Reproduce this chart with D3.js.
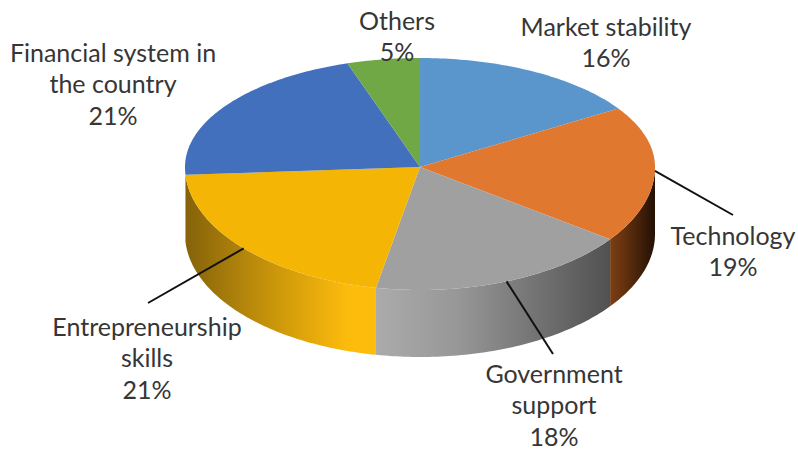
<!DOCTYPE html>
<html>
<head>
<meta charset="utf-8">
<script src="https://cdn.jsdelivr.net/npm/d3@7"></script>
<style>
html,body{margin:0;padding:0;background:#fff}
svg{display:block}
text{font-family:Lato,"Open Sans",sans-serif;font-size:25px;fill:#363636}
</style>
</head>
<body>
<svg id="chart" width="798" height="449"></svg>
<script>
// Survey shares, clockwise from twelve o'clock
const categories = ["Market stability","Technology","Government support","Entrepreneurship skills","Financial system in the country","Others"];
const shares = [16,19,18,21,21,5];
const topColors = ["#5a96cc","#e07830","#a0a0a0","#f5b505","#4370bd","#70a845"];
const labelLines = [["Market stability"],["Technology"],["Government","support"],["Entrepreneurship","skills"],["Financial system in","the country"],["Others"]];

// Label block centres (x, y of first line) and leader-line ends
const labelAnchors = [[606,27],[733,236],[554,374],[147,327],[113,53],[397,21]];
const leaderEnds = [null,[733,215],[553,354],[148,303],null,null];

const W = 798, H = 449;
const cx = 420, cy = 167, rx = 235, depth = 67;
// The near half of the disc reads larger than the far half
const ryFar = 109, ryNear = 123;
const lineH = 31.6;

const svg = d3.select("#chart").attr("viewBox", [0,0,W,H]);
const defs = svg.append("defs");

const arcs = d3.pie().value(d => d).sort(null)(shares);
const px = a => cx + rx*Math.sin(a);
const py = a => { const c = Math.cos(a); return cy - (c > 0 ? ryFar : ryNear)*c; };
// Rim points between two angles, about one per degree
const rim = (a0, a1) => {
  const n = Math.max(2, Math.ceil(Math.abs(a1-a0)*180/Math.PI));
  return d3.range(n+1).map(k => a0 + (a1-a0)*k/n);
};
const path = d3.line();

// Side wall of the disc: visible only for the lower half of the ellipse
const wallStops = {
  1:[["0%","#7a3f14"],["25%","#6a340f"],["100%","#231005"]],
  2:[["0%","#ababab"],["35%","#979797"],["100%","#515151"]],
  3:[["0%","#85620a"],["45%","#c8950a"],["85%","#fdbb0c"],["100%","#fdbb0c"]]
};
const front = [1,2,3].map(i => ({
  i,
  a0: Math.max(arcs[i].startAngle, Math.PI/2),
  a1: Math.min(arcs[i].endAngle, Math.PI*1.5)
}));

front.forEach(s => {
  const xs = [px(s.a0), px(s.a1)];
  const g = defs.append("linearGradient").attr("id","wall"+s.i)
    .attr("gradientUnits","userSpaceOnUse")
    .attr("x1", Math.min(...xs)).attr("x2", Math.max(...xs))
    .attr("y1",0).attr("y2",0);
  wallStops[s.i].forEach(([o,c]) => g.append("stop").attr("offset",o).attr("stop-color",c));
});

svg.append("g").selectAll("path").data(front).join("path")
  .attr("fill", d => `url(#wall${d.i})`)
  .attr("d", d => {
    const upper = rim(d.a0, d.a1).map(a => [px(a), py(a)]);
    const lower = rim(d.a1, d.a0).map(a => [px(a), py(a)+depth]);
    return path([...upper, ...lower]) + "Z";
  });

// Top face wedges
svg.append("g").selectAll("path").data(arcs).join("path")
  .attr("fill", (d,i) => topColors[i])
  .attr("d", d => path([[cx,cy], ...rim(d.startAngle, d.endAngle).map(a => [px(a), py(a)])]) + "Z");

// Leader lines start on the rim at each slice's middle angle
svg.append("g").selectAll("line")
  .data(arcs.map((d,i) => ({d, end:leaderEnds[i]})).filter(e => e.end))
  .join("line")
  .attr("x1", e => px((e.d.startAngle+e.d.endAngle)/2))
  .attr("y1", e => py((e.d.startAngle+e.d.endAngle)/2))
  .attr("x2", e => e.end[0])
  .attr("y2", e => e.end[1])
  .attr("stroke","#111")
  .attr("stroke-width",2);

// Category name and percentage
const labels = svg.append("g").selectAll("text").data(categories).join("text")
  .attr("text-anchor","middle");
labels.each(function(_, i) {
  const t = d3.select(this);
  const [ax, ay] = labelAnchors[i];
  [...labelLines[i], shares[i] + "%"].forEach((line, k) => {
    t.append("tspan").attr("x", ax).attr("y", ay + k*lineH).attr("dy","0.35em").text(line);
  });
});
</script>
</body>
</html>
